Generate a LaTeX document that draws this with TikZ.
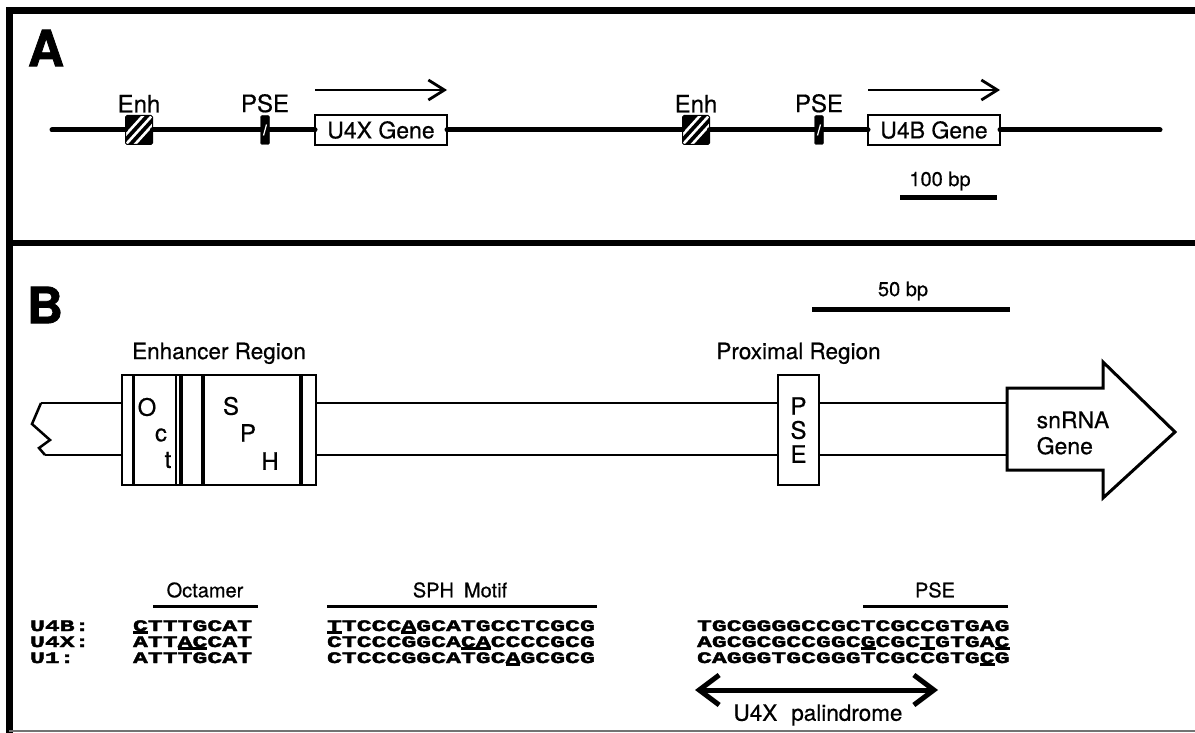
\documentclass[tikz,border=0pt]{standalone}
\usepackage{fontspec}
\setmainfont{TeX Gyre Heros}[FakeBold=0.5]
\newfontfamily\panelfont{TeX Gyre Heros}[BoldFeatures={FakeBold=1.5}]
\newfontfamily\seqfont{Liberation Mono}[FakeStretch=1.55, BoldFeatures={FakeBold=2.5}]
\usetikzlibrary{arrows.meta,positioning}
\newsavebox\seqbox
\newcommand{\seqmark}[1]{\sbox\seqbox{#1}\rlap{\rule[-2.6pt]{\wd\seqbox}{2.3pt}}\usebox\seqbox}

\begin{document}
\begin{tikzpicture}[
    x=1pt, y=-1pt,
    >={Straight Barb[length=16pt,width=20pt]},
    every node/.style={inner sep=0pt, outer sep=0pt},
    txt/.style={font=\fontsize{22.5}{25}\selectfont},
    small/.style={font=\fontsize{20}{23}\selectfont},
    tag/.style={font=\fontsize{24}{26}\selectfont},
    panel/.style={font=\panelfont\bfseries\fontsize{50}{52}\selectfont},
    seq/.style={anchor=base west, font=\seqfont\bfseries\fontsize{16}{18}\selectfont},
    gene/.style={
        draw,
        line width=2.2pt,
        fill=white,
        minimum width=132pt,
        minimum height=30pt,
        font=\fontsize{23}{25}\selectfont
    },
    enh/.style={
        draw,
        fill=black,
        line width=1pt,
        rounded corners=1.5pt,
        minimum width=27pt,
        minimum height=29pt,
        path picture={\foreach \k in {-9,0,9}
          \draw[white, line width=2.6pt] ([xshift={(\k-15)*1pt}, yshift=-2pt]path picture bounding box.south) -- ++(30pt,33pt);}
    },
    pse/.style={
        draw,
        fill=black,
        rounded corners=1.5pt,
        minimum width=9pt,
        minimum height=29pt,
        path picture={\draw[white, line width=1.2pt] ([xshift=-1.5pt, yshift=9pt]path picture bounding box.south) -- ([xshift=1.5pt, yshift=-9pt]path picture bounding box.north);}
    },
    dna/.style={line width=5pt, line cap=round},
    strand/.style={line width=2.5pt},
    bar/.style={line width=5pt},
    topbar/.style={line width=3pt}
]
  \useasboundingbox (0,0) rectangle (1195,733);

  % frame
  \draw[line width=7pt] (9,733) -- (9,11) -- (1195,11);
  \draw[line width=6pt] (9,243) -- (1195,243);
  \draw[black!55, line width=1.5pt] (9,731) -- (1195,731);

  % panel A
  \node[panel] (A) at (46,48) {A};
  \coordinate (a0) at (52,130);
  \coordinate (a1) at (1160,130);
  \node[enh] (enh1) at (139,130) {};
  \node[pse] (pse1) at (265,130) {};
  \node[gene] (u4x) at (381,130) {U4X Gene};
  \node[enh] (enh2) at (696,130) {};
  \node[pse] (pse2) at (819,130) {};
  \node[gene] (u4b) at (934,130) {U4B Gene};
  \draw[dna] (a0) -- (enh1) (enh1) -- (pse1) (pse1) -- (u4x) (u4x) -- (enh2)
    (enh2) -- (pse2) (pse2) -- (u4b) (u4b) -- (a1);
  \node[tag, above=3pt of enh1] (enh1lbl) {Enh};
  \node[tag, above=3pt of pse1] (pse1lbl) {PSE};
  \node[tag, above=3pt of enh2] (enh2lbl) {Enh};
  \node[tag, above=3pt of pse2] (pse2lbl) {PSE};
  \draw[->, line width=2.8pt] ([yshift=25pt]u4x.north west) -- ([yshift=25pt]u4x.north east);
  \draw[->, line width=2.8pt] ([yshift=25pt]u4b.north west) -- ([yshift=25pt]u4b.north east);
  \node[small] (bp100) at (940,181) {100 bp};
  \draw[bar] (900,198) -- (997,198);

  % panel B
  \node[panel] (B) at (45,305) {B};
  \node[small] (bp50) at (903,291) {50 bp};
  \draw[bar] (812,309) -- (1010,309);

  \node[draw, line width=1.5pt, minimum width=194pt, minimum height=110pt] (enhreg) at (219,430) {};
  \foreach \vx/\vw in {133.5/3.5, 176/1.5, 181/3.5, 203/3.5, 301/3.5}
    \draw[line width=\vw pt] (\vx,375) -- (\vx,485);
  \node[txt, above=11pt of enhreg] (enhlbl) {Enhancer Region};
  \foreach \ch/\px/\py in {O/147/407, c/161/435, t/168/460, S/231/406, P/248/433, H/270/461}
    \node[tag] at (\px,\py) {\ch};

  \node[tag, draw, line width=2pt, minimum width=41pt, minimum height=110pt, align=center] (psebox) at (798.5,430) {P\\[-2pt]S\\[-2pt]E};
  \node[txt, above=11pt of psebox] (proxlbl) {Proximal Region};

  \coordinate (z0) at (41,403);
  \coordinate (z1) at (45,455);
  \draw[strand, line join=miter] (z0) -- (32,424) -- (50,440) -- (39,448) -- (z1);
  \draw[strand] (z0) -- (z0 -| enhreg.west) (z1) -- (z1 -| enhreg.west);
  \draw[line width=3pt, fill=white, line join=miter] (1007,388) coordinate (gtop) -- (1103,388) -- (1103,362)
    -- (1175,432) -- (1103,498) -- (1103,470) -- (1007,470) -- cycle;
  \draw[strand] (enhreg.east |- z0) -- (psebox.west |- z0) (enhreg.east |- z1) -- (psebox.west |- z1);
  \draw[strand] (psebox.east |- z0) -- (gtop |- z0) (psebox.east |- z1) -- (gtop |- z1);
  \node[font=\fontsize{23}{26}\selectfont, align=left] (snrna) at (1073,433) {snRNA\\Gene};

  % sequences
  \node[small] (octhd) at (205,590) {Octamer};
  \draw[topbar] (153,606) -- (258,606);
  \node[small] (sphhd) at (460,590) {SPH\hspace{10pt}Motif};
  \draw[topbar] (327,606) -- (597,606);
  \node[small] (psehd) at (935,590) {PSE};
  \draw[topbar] (863,606) -- (1008,606);

  \node[seq] (rowb) at (30,631) {U4B:};
  \node[seq] (rowx) at (30,647) {U4X:};
  \node[seq] (rowone) at (30,663) {U1:};

  \node[seq] (octb) at (133,631) {\seqmark{C}TTTGCAT};
  \node[seq] (octx) at (133,647) {ATT\seqmark{AC}CAT};
  \node[seq] (octone) at (133,663) {ATTTGCAT};

  \node[seq] (sphb) at (327,631) {\seqmark{T}TCCC\seqmark{A}GCATGCCTCGCG};
  \node[seq] (sphx) at (327,647) {CTCCCGGCA\seqmark{CA}CCCCGCG};
  \node[seq] (sphone) at (327,663) {CTCCCGGCATGC\seqmark{A}GCGCG};

  \node[seq] (proxb) at (697,631) {TGCGGGGCCGCTCGCCGTGAG};
  \node[seq] (proxx) at (697,647) {AGCGCGCCGGC\seqmark{G}CGC\seqmark{T}GTGA\seqmark{C}};
  \node[seq] (proxone) at (697,663) {CAGGGTGCGGGTCGCCGTG\seqmark{C}G};

  \coordinate (pal0) at (695,690);
  \coordinate (pal1) at (938,690);
  \draw[{Straight Barb[length=20pt,width=30pt]}-{Straight Barb[length=20pt,width=30pt]}, line width=5pt] (pal0) -- (pal1);
  \node[txt] (paltxt) at (818,715) {U4X\hspace{14pt}palindrome};
\end{tikzpicture}
\end{document}
